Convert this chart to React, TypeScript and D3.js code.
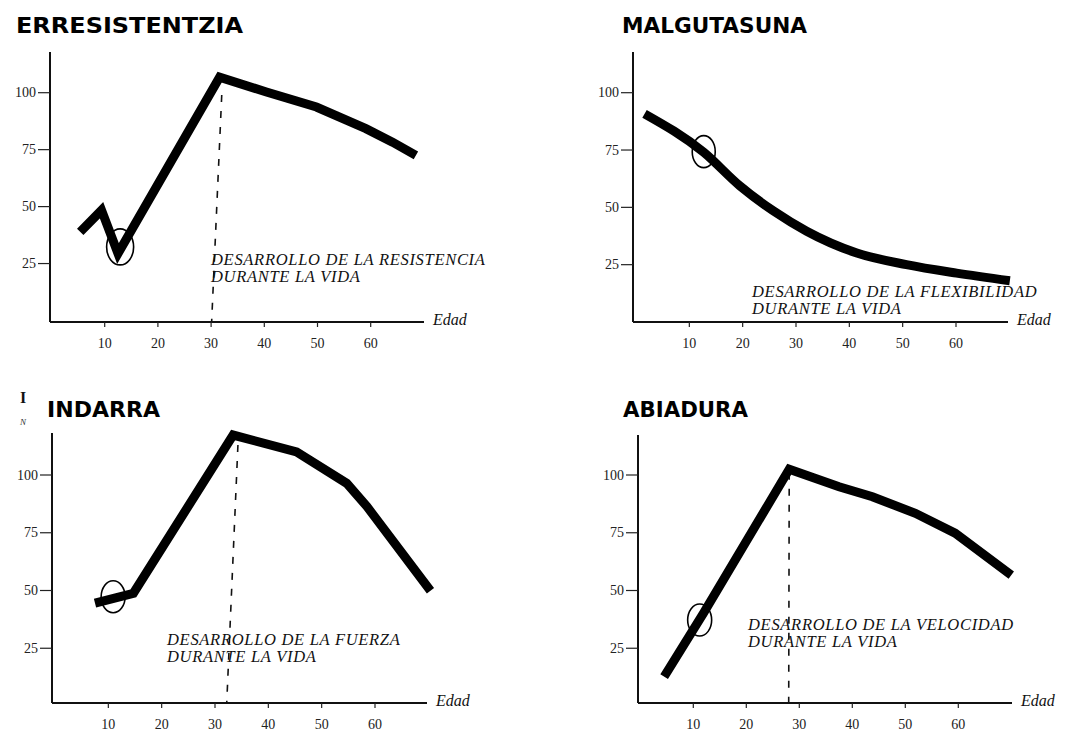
import React from "react";
import * as d3 from "d3";

// ---------- DATA ----------
const titles = ["ERRESISTENTZIA", "MALGUTASUNA", "INDARRA", "ABIADURA"];
const captionLine1 = [
  "DESARROLLO DE LA RESISTENCIA",
  "DESARROLLO DE LA FLEXIBILIDAD",
  "DESARROLLO DE LA FUERZA",
  "DESARROLLO DE LA VELOCIDAD",
];
const captionLine2 = "DURANTE LA VIDA";
const xAxisLabel = "Edad";
const xTickValues = [10, 20, 30, 40, 50, 60];
const yTickValues = [25, 50, 75, 100];

const resistenciaEdad = [5.4, 9.4, 12.5, 31.6, 40.4, 49.8, 59.1, 64.1, 68.5];
const resistenciaValor = [38.9, 48.4, 29.4, 106.8, 100.3, 93.7, 84.2, 78.3, 72.5];

const flexibilidadEdad = [1.6, 12.7, 19.5, 25.8, 32, 41.4, 50.7, 60.1, 70.1];
const flexibilidadValor = [90.8, 74, 59.3, 48.4, 39.6, 30.1, 25, 21.3, 18];

const fuerzaEdad = [7.5, 14.7, 33.4, 45.3, 54.7, 58.5, 70.4];
const fuerzaValor = [44.5, 48.8, 117.3, 110, 96.4, 86.3, 49.9];

const velocidadEdad = [4.5, 11.9, 28.1, 37.5, 43.8, 51.9, 59.4, 70];
const velocidadValor = [12.7, 40.1, 102.5, 94.9, 90.6, 83.4, 74.8, 56.7];

// marked (circled) point per panel: [edad, valor]
const circleEdad = [12.9, 12.7, 10.9, 11.2];
const circleValor = [32.3, 74.3, 47.3, 37.2];

// dashed peak line per panel (null = none)
const peakTopEdad = [32, null, 34.3, 28.1];
const peakTopValor = [99, null, 113, 101];
const peakBottomEdad = [30.1, null, 32.2, 28];

// ---------- LAYOUT ----------
type Panel = {
  axisX: number; axisY: number; axisTop: number; axisRight: number;
  x0: number; x60: number; y0: number; y100: number;
  titleX: number; titleY: number; titleW: number;
  capX: number; capY: number;
  rx: number; ry: number;
  curve: any;
  edad: number[]; valor: number[];
};

const panels: Panel[] = [
  { axisX: 50, axisY: 322, axisTop: 52, axisRight: 424, x0: 51.5, x60: 370.7, y0: 320.5, y100: 92.7,
    titleX: 16, titleY: 33, titleW: 227, capX: 211, capY: 265, rx: 13.5, ry: 18, curve: d3.curveLinear,
    edad: resistenciaEdad, valor: resistenciaValor },
  { axisX: 633, axisY: 322, axisTop: 52, axisRight: 1008, x0: 636, x60: 956, y0: 322, y100: 92.7,
    titleX: 622, titleY: 33, titleW: 185, capX: 752, capY: 297, rx: 11.5, ry: 16, curve: d3.curveMonotoneX,
    edad: flexibilidadEdad, valor: flexibilidadValor },
  { axisX: 52, axisY: 703, axisTop: 433, axisRight: 427, x0: 55, x60: 375, y0: 706, y100: 475,
    titleX: 47, titleY: 417, titleW: 113, capX: 167, capY: 645, rx: 12, ry: 16, curve: d3.curveLinear,
    edad: fuerzaEdad, valor: fuerzaValor },
  { axisX: 638, axisY: 703, axisTop: 435, axisRight: 1012, x0: 640.3, x60: 958.3, y0: 706, y100: 475,
    titleX: 623, titleY: 417, titleW: 125, capX: 748, capY: 630, rx: 12, ry: 16, curve: d3.curveLinear,
    edad: velocidadEdad, valor: velocidadValor },
];

const serif = "'Liberation Serif', 'Times New Roman', serif";

function ChartPanel({ p, i }: { p: Panel; i: number }) {
  const x = d3.scaleLinear().domain([0, 60]).range([p.x0, p.x60]);
  const y = d3.scaleLinear().domain([0, 100]).range([p.y0, p.y100]);
  const pts = p.edad.map((e, k) => [e, p.valor[k]] as [number, number]);
  const line = d3.line<[number, number]>().x((d) => x(d[0])).y((d) => y(d[1])).curve(p.curve);
  const hasPeak = peakTopEdad[i] !== null;
  return (
    <g>
      <text x={p.titleX} y={p.titleY} fontFamily="'DejaVu Sans', sans-serif" fontWeight="bold" fontSize={22}
        textLength={p.titleW} lengthAdjust="spacingAndGlyphs" fill="#000">{titles[i]}</text>
      {/* axes */}
      <line x1={p.axisX} x2={p.axisX} y1={p.axisTop} y2={p.axisY} stroke="#111" strokeWidth={2} />
      <line x1={p.axisX} x2={p.axisRight} y1={p.axisY} y2={p.axisY} stroke="#111" strokeWidth={2} />
      {yTickValues.map((t) => (
        <g key={"y" + t}>
          <line x1={p.axisX - 12} x2={p.axisX} y1={y(t)} y2={y(t)} stroke="#222" strokeWidth={1.2} />
          <text x={p.axisX - 14} y={y(t)} dy="0.33em" textAnchor="end" fontFamily={serif} fontSize={14} fill="#222">{t}</text>
        </g>
      ))}
      {xTickValues.map((t) => (
        <g key={"x" + t}>
          <line x1={x(t)} x2={x(t)} y1={p.axisY} y2={p.axisY + 5} stroke="#222" strokeWidth={1.2} />
          <text x={x(t)} y={p.axisY + 26} textAnchor="middle" fontFamily={serif} fontSize={14} fill="#222">{t}</text>
        </g>
      ))}
      <text x={p.axisRight + 9} y={p.axisY + 3} fontFamily={serif} fontStyle="italic" fontSize={16} fill="#111">{xAxisLabel}</text>
      {/* dashed peak line */}
      {hasPeak && (
        <line x1={x(peakTopEdad[i] as number)} y1={y(peakTopValor[i] as number)}
          x2={x(peakBottomEdad[i] as number)} y2={p.axisY}
          stroke="#111" strokeWidth={1.6} strokeDasharray="7,9" />
      )}
      {/* captions */}
      <text x={p.capX} y={p.capY} fontFamily={serif} fontStyle="italic" fontSize={16.5} letterSpacing={0.7} fill="#111">{captionLine1[i]}</text>
      <text x={p.capX} y={p.capY + 17} fontFamily={serif} fontStyle="italic" fontSize={16.5} letterSpacing={0.7} fill="#111">{captionLine2}</text>
      {/* curve */}
      <path d={line(pts) || ""} fill="none" stroke="#000" strokeWidth={9} strokeLinejoin="miter" strokeLinecap="butt" />
      {/* circled point */}
      <ellipse cx={x(circleEdad[i])} cy={y(circleValor[i])} rx={p.rx} ry={p.ry} fill="none" stroke="#000" strokeWidth={1.6} />
    </g>
  );
}

export default function App() {
  return (
    <svg width={1072} height={733} style={{ position: "absolute", left: 0, top: 0, background: "#fff" }}>
      <rect width={1072} height={733} fill="#fff" />
      {panels.map((p, i) => (
        <ChartPanel key={i} p={p} i={i} />
      ))}
      <text x={20} y={403} fontFamily={serif} fontWeight="bold" fontSize={16} fill="#111">I</text>
      <text x={20} y={425} fontFamily={serif} fontStyle="italic" fontSize={9} fill="#333">N</text>
    </svg>
  );
}
